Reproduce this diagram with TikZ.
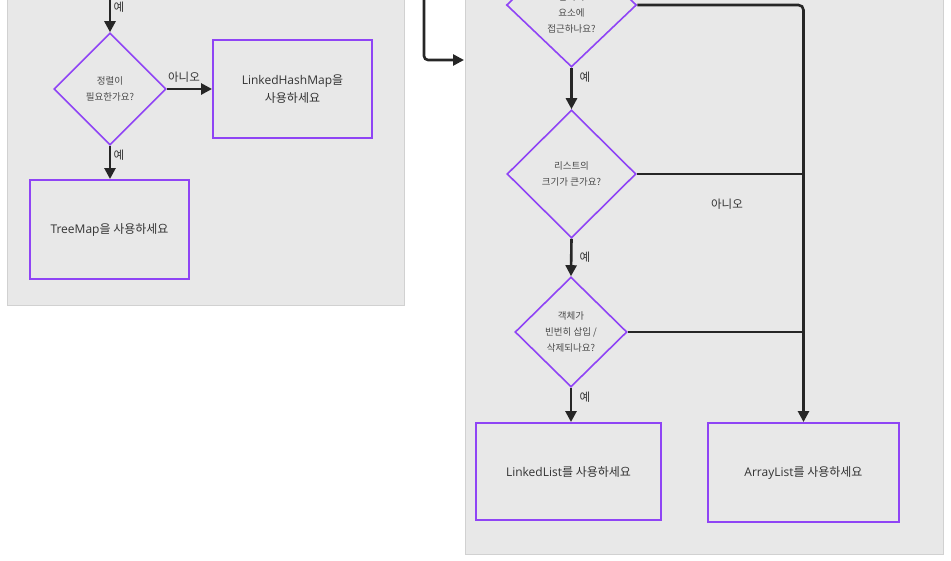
\documentclass[tikz,border=0pt]{standalone}
\usepackage{fontspec}
\setmainfont{Noto Sans CJK KR}
\newfontfamily\latinfont{Open Sans}
\newcommand{\lt}[1]{{\latinfont #1}}
\usetikzlibrary{shapes.geometric,arrows.meta}
\definecolor{panelgray}{HTML}{E8E8E8}
\definecolor{purp}{HTML}{8F44F5}
\definecolor{conncol}{HTML}{262626}
\definecolor{txtdark}{HTML}{333333}
\definecolor{txtgray}{HTML}{4A4A4A}
\tikzset{
  panel/.style={fill=panelgray, draw=panelgray!90!black, line width=0.4pt},
  dia/.style={diamond, draw=purp, line width=1.6pt, inner sep=0pt, align=center,
    text=txtgray, font=\fontsize{9.5}{16}\selectfont},
  resbox/.style={rectangle, draw=purp, line width=1.9pt, inner sep=0pt, align=center,
    text=txtdark, font=\fontsize{12}{18}\selectfont},
  conn/.style={draw=conncol, line width=2.6pt},
  arr/.style={conn, -{Triangle[length=11pt,width=11pt]}},
  lbl/.style={text=txtdark, font=\fontsize{11.5}{13}\selectfont, inner sep=0pt}
}
\begin{document}
\begin{tikzpicture}[x=1pt,y=-1pt]
\useasboundingbox (0,0) rectangle (951,560);
\fill[white] (0,0) rectangle (951,560);
% panels
\path[panel] (7,-5) rectangle (404,305);
\path[panel] (465,-5) rectangle (943,554);

% left flow
\coordinate (topA) at (110,-2);
\node[dia, minimum width=112pt, minimum height=112pt] (d1) at (110,89) {정렬이\\필요한가요?};
\node[resbox, minimum width=159pt, minimum height=98pt] (lhm) at (292.5,89) {\lt{LinkedHashMap}을\\사용하세요};
\node[resbox, minimum width=159pt, minimum height=99pt] (tm) at (109.5,229.5) {\lt{TreeMap}을 사용하세요};

\draw[arr] (topA) -- (d1.north);
\node[lbl] (l1) at (119,7) {예};
\draw[arr] (d1.east) -- (lhm.west);
\node[lbl] (l2) at (184,77) {아니오};
\draw[arr] (d1.south) -- (d1.south |- tm.north);
\node[lbl] (l3) at (119,155) {예};

% connector into right panel
\coordinate (topB) at (424,-2);
\coordinate (inR) at (464,60);
\draw[arr, rounded corners=4pt] (topB) |- (inR);

% right flow
\node[dia, minimum width=130pt, minimum height=124pt] (dA) at (571.5,5) {모든 위치의\\임의의\\요소에\\접근하나요?};
\node[dia, minimum width=129pt, minimum height=128pt] (dB) at (571.5,174) {리스트의\\크기가 큰가요?};
\node[dia, minimum width=112pt, minimum height=110pt] (dC) at (571,332) {객체가\\빈번히 삽입 /\\삭제되나요?};
\node[resbox, minimum width=185pt, minimum height=97pt] (ll) at (568.5,471.5) {\lt{LinkedList}를 사용하세요};
\node[resbox, minimum width=191pt, minimum height=99pt] (al) at (803.5,472.5) {\lt{ArrayList}를 사용하세요};

\draw[arr] (dA.south) -- (dB.north);
\node[lbl] (l4) at (585,77) {예};
\draw[arr] (dB.south) -- (dC.north);
\node[lbl] (l5) at (585,257) {예};
\draw[arr] (dC.south) -- (dC.south |- ll.north);
\node[lbl] (l6) at (585,397) {예};

\draw[arr, rounded corners=5pt] (dA.east) -| (al.north);
\draw[conn] (dB.east) -- (dB.east -| al.north);
\draw[conn] (dC.east) -- (dC.east -| al.north);
\node[lbl] (l7) at (727,204) {아니오};
\end{tikzpicture}
\end{document}
